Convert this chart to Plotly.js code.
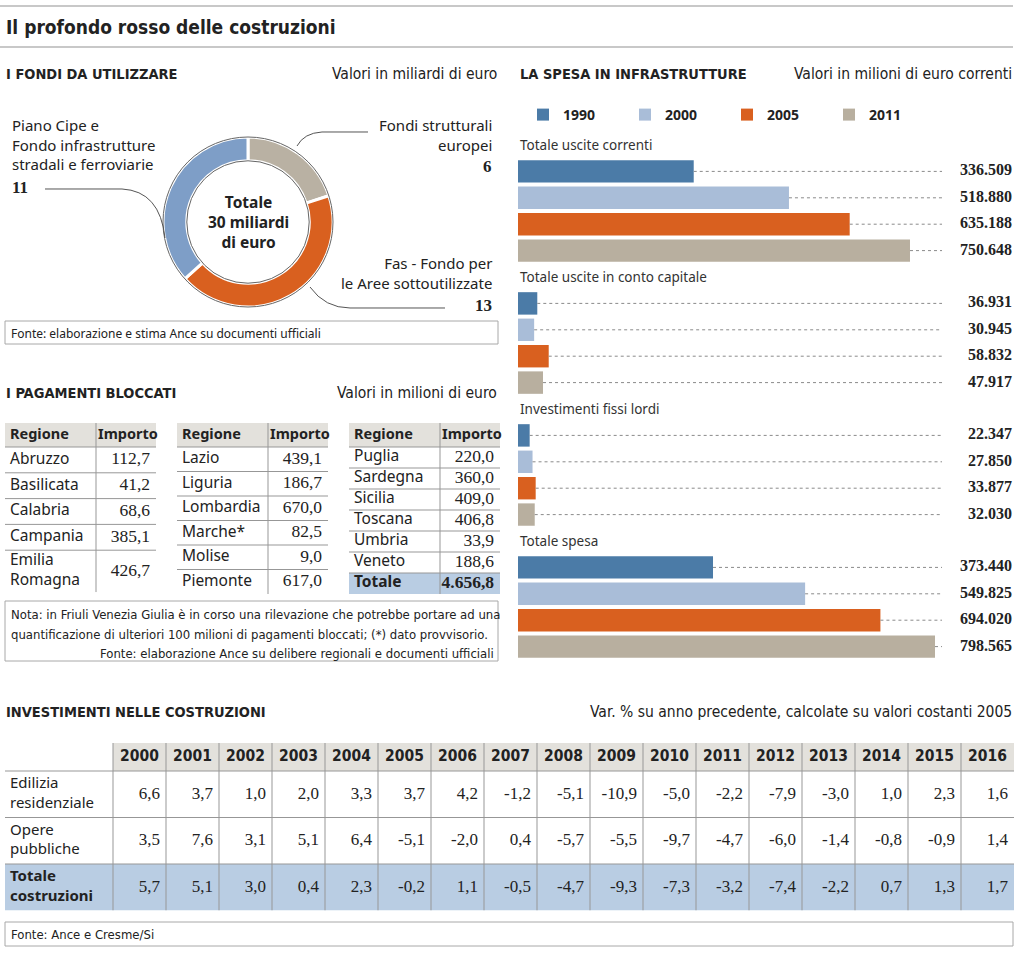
<!DOCTYPE html>
<html><head><meta charset="utf-8">
<script src="https://cdn.plot.ly/plotly-3.0.1.min.js"></script>
<style>html,body{margin:0;padding:0;background:#fff}#chart{width:1024px;height:954px}</style>
</head><body><div id="chart"></div>
<script>
// ---------------- DATA ----------------
const fondiLabels = ['Fondi strutturali<br>europei', 'Fas - Fondo per<br>le Aree sottoutilizzate', 'Piano Cipe e<br>Fondo infrastrutture<br>stradali e ferroviarie'];
const fondiValues = [6, 13, 11];
const fondiTotalText = 'Totale<br>30 miliardi<br>di euro';

const spesaYears = ['1990', '2000', '2005', '2011'];
const spesaGroups = ['Totale uscite correnti', 'Totale uscite in conto capitale', 'Investimenti fissi lordi', 'Totale spesa'];
const spesa1990 = [336509, 36931, 22347, 373440];
const spesa2000 = [518880, 30945, 27850, 549825];
const spesa2005 = [635188, 58832, 33877, 694020];
const spesa2011 = [750648, 47917, 32030, 798565];

const regioni1 = ['Abruzzo', 'Basilicata', 'Calabria', 'Campania', 'Emilia<br>Romagna'];
const importi1 = [112.7, 41.2, 68.6, 385.1, 426.7];
const regioni2 = ['Lazio', 'Liguria', 'Lombardia', 'Marche*', 'Molise', 'Piemonte'];
const importi2 = [439.1, 186.7, 670.0, 82.5, 9.0, 617.0];
const regioni3 = ['Puglia', 'Sardegna', 'Sicilia', 'Toscana', 'Umbria', 'Veneto', 'Totale'];
const importi3 = [220.0, 360.0, 409.0, 406.8, 33.9, 188.6, 4656.8];
const tableHeader = ['Regione', 'Importo'];

const invYears = ['2000','2001','2002','2003','2004','2005','2006','2007','2008','2009','2010','2011','2012','2013','2014','2015','2016'];
const invRows = ['Edilizia residenziale', 'Opere pubbliche', 'Totale costruzioni'];
const invEdilizia = [6.6, 3.7, 1.0, 2.0, 3.3, 3.7, 4.2, -1.2, -5.1, -10.9, -5.0, -2.2, -7.9, -3.0, 1.0, 2.3, 1.6];
const invOpere = [3.5, 7.6, 3.1, 5.1, 6.4, -5.1, -2.0, 0.4, -5.7, -5.5, -9.7, -4.7, -6.0, -1.4, -0.8, -0.9, 1.4];
const invTotale = [5.7, 5.1, 3.0, 0.4, 2.3, -0.2, 1.1, -0.5, -4.7, -9.3, -7.3, -3.2, -7.4, -2.2, 0.7, 1.3, 1.7];

// ---------------- HELPERS ----------------
const W = 1024, H = 954;
const X = p => p / W;
const Y = p => 1 - p / H;
const SANS = "'Noto Sans', 'Open Sans', sans-serif";
const COND = "'Liberation Sans Narrow', 'DejaVu Sans Condensed', Roboto, sans-serif";
const SERIF = "'Liberation Serif', 'DejaVu Serif', serif";
const INK = '#222';
const LINE = '#979797';
const HEAD_FILL = '#e3e1dc';
const TOT_FILL = '#b9cde3';
const fmt1 = v => {
  const s = Math.abs(v).toFixed(1).split('.');
  const i = s[0].replace(/\B(?=(\d{3})+(?!\d))/g, '.');
  return (v < 0 ? '-' : '') + i + ',' + s[1];
};
function ann(text, x, y, o) {
  o = o || {};
  return {text: text, x: X(x), y: Y(y), xref: 'paper', yref: 'paper', showarrow: false,
    xanchor: o.xa || 'left', yanchor: o.ya || 'middle', align: o.align || (o.xa === 'right' ? 'right' : (o.xa === 'center' ? 'center' : 'left')),
    font: {family: o.family || SANS, size: o.size || 14, color: o.color || INK}};
}
function path(cmds) {
  return cmds.map(c => c[0] + ' ' + c.slice(1).map((v, k) => (k % 2 === 0 ? X(v) : Y(v)).toFixed(5)).join(' ')).join(' ');
}

const traces = [];
const annotations = [];
const shapes = [];
const layout = {
  width: W, height: H, margin: {l: 0, r: 0, t: 0, b: 0}, paper_bgcolor: '#ffffff', plot_bgcolor: 'rgba(0,0,0,0)',
  separators: ',.', barmode: 'overlay', font: {family: SANS, color: INK}, showlegend: true
};

// ---------------- DONUT ----------------
const donutColors = ['#b9b1a3', '#d9601f', '#7e9ec7'];
const cx = 248, cy = 222, R = 85, hole = 0.72;
traces.push({
  type: 'pie', values: fondiValues, labels: fondiLabels.map(s => s.replace(/<br>/g, ' ')),
  sort: false, direction: 'clockwise', rotation: 0, hole: hole,
  marker: {colors: donutColors, line: {color: '#ffffff', width: 3}},
  textinfo: 'none', showlegend: false, hoverinfo: 'label+value',
  domain: {x: [X(cx - R), X(cx + R)], y: [Y(cy + R), Y(cy - R)]}
});
shapes.push({type: 'circle', xref: 'paper', yref: 'paper', x0: X(cx - R), x1: X(cx + R), y0: Y(cy + R), y1: Y(cy - R), line: {color: '#666', width: 1}});
const ri = R * hole;
shapes.push({type: 'circle', xref: 'paper', yref: 'paper', x0: X(cx - ri), x1: X(cx + ri), y0: Y(cy + ri), y1: Y(cy - ri), line: {color: '#666', width: 1}});
annotations.push(ann('<b>' + fondiTotalText + '</b>', cx, cy, {xa: 'center', size: 15.5}));
annotations.push(ann(fondiLabels[2], 10, 113, {ya: 'top', size: 15}));
annotations.push(ann('<b>' + fondiValues[2] + '</b>', 10, 187, {family: SERIF, size: 17}));
annotations.push(ann(fondiLabels[0], 494, 113, {ya: 'top', xa: 'right', size: 15}));
annotations.push(ann('<b>' + fondiValues[0] + '</b>', 494, 166, {xa: 'right', family: SERIF, size: 17}));
annotations.push(ann(fondiLabels[1], 494, 251, {ya: 'top', xa: 'right', size: 15}));
annotations.push(ann('<b>' + fondiValues[1] + '</b>', 494, 306, {xa: 'right', family: SERIF, size: 17}));
const leaderStyle = {color: '#555', width: 1};
shapes.push({type: 'path', xref: 'paper', yref: 'paper', line: leaderStyle, path: path([['M', 45, 189], ['L', 122, 189], ['Q', 160, 191, 165, 238]])});
shapes.push({type: 'path', xref: 'paper', yref: 'paper', line: leaderStyle, path: path([['M', 368, 132], ['L', 322, 132], ['Q', 304, 133, 297, 146]])});
shapes.push({type: 'path', xref: 'paper', yref: 'paper', line: leaderStyle, path: path([['M', 310, 287], ['Q', 325, 308, 350, 308], ['L', 445, 308]])});

// ---------------- BARS ----------------
const barColors = ['#4b7ba7', '#a9bdd8', '#d9601f', '#b8af9f'];
const spesaSeries = [spesa1990, spesa2000, spesa2005, spesa2011];
const SLOTS = 5;
const xMax = 946000, leaderEnd = 812000;
layout.xaxis = {domain: [X(518), X(1012)], range: [0, xMax], visible: false, fixedrange: true};
layout.yaxis = {domain: [Y(659.8), Y(131.8)], range: [19.5, -0.5], visible: false, fixedrange: true};
layout.legend = {orientation: 'h', x: X(523), y: Y(99), xanchor: 'left', yanchor: 'top', traceorder: 'normal',
  entrywidth: 57, entrywidthmode: 'pixels', itemwidth: 30, bgcolor: 'rgba(0,0,0,0)',
  font: {family: SANS, size: 14, color: INK, weight: 'bold'}};
spesaSeries.forEach((vals, k) => {
  const ys = vals.map((v, g) => g * SLOTS + k + 1);
  traces.push({type: 'bar', orientation: 'h', name: spesaYears[k], x: vals, y: ys, width: 0.85,
    marker: {color: barColors[k]}, xaxis: 'x', yaxis: 'y', hovertemplate: '%{x:,}<extra>' + spesaYears[k] + '</extra>'});
});
const lx = [], ly = [];
spesaSeries.forEach((vals, k) => vals.forEach((v, g) => {
  const s = g * SLOTS + k + 1;
  lx.push(v, leaderEnd, null); ly.push(s, s, null);
}));
traces.push({type: 'scatter', mode: 'lines', x: lx, y: ly, line: {color: '#8a8a8a', width: 1, dash: 'dot'},
  showlegend: false, hoverinfo: 'skip', xaxis: 'x', yaxis: 'y'});
const vx = [], vy = [], vc = [];
spesaSeries.forEach((vals, k) => vals.forEach((v, g) => { vx.push(xMax); vy.push(g * SLOTS + k + 1); vc.push(v); }));
traces.push({type: 'scatter', mode: 'text', x: vx, y: vy, customdata: vc, texttemplate: '<b>%{customdata:,}</b>',
  textposition: 'middle left', textfont: {family: SERIF, size: 16, color: INK}, cliponaxis: false,
  showlegend: false, hoverinfo: 'skip', xaxis: 'x', yaxis: 'y'});
spesaGroups.forEach((g, i) => {
  annotations.push({text: g, xref: 'paper', yref: 'y', x: X(518), y: i * SLOTS, xanchor: 'left', yanchor: 'middle',
    showarrow: false, font: {family: SANS, size: 13.5, color: '#333'}});
});

// ---------------- TABLE ENGINE (text through hidden axes) ----------------
let axisN = 1;
function addTable(spec) {
  const n = ++axisN;
  const xa = 'x' + n, ya = 'y' + n;
  const totalW = spec.colW.reduce((a, b) => a + b, 0);
  const totalH = spec.headH + spec.rowH.reduce((a, b) => a + b, 0);
  layout['xaxis' + n] = {domain: [X(spec.left), X(spec.left + totalW)], range: [0, totalW], visible: false, fixedrange: true, anchor: ya};
  layout['yaxis' + n] = {domain: [Y(spec.top + totalH), Y(spec.top)], range: [totalH, 0], visible: false, fixedrange: true, anchor: xa};
  const colL = []; let acc = 0; spec.colW.forEach(w => { colL.push(acc); acc += w; });
  const rowTop = []; acc = spec.headH; spec.rowH.forEach(h => { rowTop.push(acc); acc += h; });
  spec.colW.forEach((w, c) => {
    if (spec.headFill[c]) shapes.push({type: 'rect', xref: xa, yref: ya, x0: colL[c], x1: colL[c] + w, y0: 0, y1: spec.headH,
      fillcolor: spec.headFill[c], line: {width: 0}, layer: 'below'});
  });
  spec.rowH.forEach((h, r) => {
    if (spec.rowFill[r]) shapes.push({type: 'rect', xref: xa, yref: ya, x0: 0, x1: totalW, y0: rowTop[r], y1: rowTop[r] + h,
      fillcolor: spec.rowFill[r], line: {width: 0}, layer: 'below'});
  });
  [spec.headH].concat(rowTop.slice(1)).forEach(yv => shapes.push({type: 'line', xref: xa, yref: ya, x0: 0, x1: totalW, y0: yv, y1: yv, line: {color: LINE, width: 1}}));
  colL.slice(1).forEach(xv => shapes.push({type: 'line', xref: xa, yref: ya, x0: xv, x1: xv, y0: 0, y1: totalH, line: {color: LINE, width: 1}}));
  const place = (al, c, pad) => al === 'left' ? [colL[c] + pad, 'middle right'] : al === 'right' ? [colL[c] + spec.colW[c] - pad, 'middle left'] : [colL[c] + spec.colW[c] / 2, 'middle center'];
  spec.header.forEach((h, c) => {
    const p = place(spec.headAlign[c], c, spec.headPad[c]);
    traces.push({type: 'scatter', mode: 'text', x: [p[0]], y: [spec.headH / 2], text: [h], textposition: p[1],
      textfont: spec.headFont, xaxis: xa, yaxis: ya, showlegend: false, hoverinfo: 'skip', cliponaxis: false});
  });
  spec.columns.forEach((col, c) => {
    const p = place(spec.align[c], c, spec.pad[c]);
    traces.push({type: 'scatter', mode: 'text', x: col.map(() => p[0]), y: spec.rowH.map((h, r) => rowTop[r] + h / 2),
      text: col, textposition: p[1], textfont: spec.fonts[c], xaxis: xa, yaxis: ya, showlegend: false, hoverinfo: 'skip', cliponaxis: false});
  });
}

// ---------------- SMALL TABLES ----------------
const nameFont = {family: SANS, size: 15.5, color: INK};
const numFont = {family: SERIF, size: 17.5, color: INK};
const headFontSmall = {family: SANS, size: 14.5, color: INK};
function smallTable(regs, vals, left, rowH, highlightLast) {
  const n = regs.length;
  const isTot = i => highlightLast && i === n - 1;
  addTable({
    left: left, top: 423, colW: [91, 60], headH: 24,
    rowH: regs.map(r => r.indexOf('<br>') >= 0 ? 42 : rowH),
    header: tableHeader.map(h => '<b>' + h + '</b>'), headAlign: ['left', 'left'], headPad: [5, 2], headFont: headFontSmall,
    headFill: [HEAD_FILL, HEAD_FILL],
    rowFill: regs.map((r, i) => isTot(i) ? TOT_FILL : null),
    columns: [regs.map((r, i) => isTot(i) ? '<b>' + r + '</b>' : r), vals.map((v, i) => isTot(i) ? '<b>' + fmt1(v) + '</b>' : fmt1(v))],
    align: ['left', 'right'], pad: [5, 6], fonts: [nameFont, numFont]
  });
}
smallTable(regioni1, importi1, 5, 25.8, false);
smallTable(regioni2, importi2, 177, 24.5, false);
smallTable(regioni3, importi3, 349, 21, true);

// ---------------- BIG TABLE ----------------
const invSeries = [invEdilizia, invOpere, invTotale];
addTable({
  left: 5, top: 743, colW: [108].concat(invYears.map(() => 53)), headH: 28,
  rowH: invRows.map(() => 46.5),
  header: [''].concat(invYears.map(y => '<b>' + y + '</b>')), headAlign: ['left'].concat(invYears.map(() => 'center')),
  headPad: [5].concat(invYears.map(() => 0)), headFont: {family: COND, size: 15.5, color: INK},
  headFill: [null].concat(invYears.map(() => HEAD_FILL)),
  rowFill: invRows.map((r, i) => i === 2 ? TOT_FILL : null),
  columns: [invRows.map((r, i) => r.split(' ').map(p => i === 2 ? '<b>' + p + '</b>' : p).join('<br>'))]
    .concat(invYears.map((y, j) => invSeries.map(s => fmt1(s[j])))),
  align: ['left'].concat(invYears.map(() => 'right')), pad: [5].concat(invYears.map(() => 6)),
  fonts: [{family: SANS, size: 15, color: INK}].concat(invYears.map(() => ({family: SERIF, size: 17, color: INK})))
});

// ---------------- TEXTS & FRAMES ----------------
shapes.push({type: 'line', xref: 'paper', yref: 'paper', x0: 0, x1: X(1013), y0: Y(6), y1: Y(6), line: {color: '#c8c8c8', width: 2}});
shapes.push({type: 'line', xref: 'paper', yref: 'paper', x0: 0, x1: X(1013), y0: Y(47), y1: Y(47), line: {color: '#c8c8c8', width: 2}});
shapes.push({type: 'rect', xref: 'paper', yref: 'paper', x0: X(5), x1: X(498), y0: Y(344), y1: Y(321), line: {color: '#a8a8a8', width: 1}});
shapes.push({type: 'rect', xref: 'paper', yref: 'paper', x0: X(5), x1: X(498), y0: Y(661), y1: Y(601), line: {color: '#a8a8a8', width: 1}});
shapes.push({type: 'rect', xref: 'paper', yref: 'paper', x0: X(5), x1: X(1013), y0: Y(946), y1: Y(922), line: {color: '#a8a8a8', width: 1}});

annotations.push(ann('<b>Il profondo rosso delle costruzioni</b>', 4, 27, {family: COND, size: 19}));
annotations.push(ann('<b>I FONDI DA UTILIZZARE</b>', 4, 74, {family: COND, size: 14.5}));
annotations.push(ann('Valori in miliardi di euro', 499, 74, {xa: 'right', family: COND, size: 15.5}));
annotations.push(ann('<b>LA SPESA IN INFRASTRUTTURE</b>', 518, 74, {family: COND, size: 14.5}));
annotations.push(ann('Valori in milioni di euro correnti', 1014, 74, {xa: 'right', family: COND, size: 15.5}));
annotations.push(ann('<b>I PAGAMENTI BLOCCATI</b>', 4, 393, {family: COND, size: 14.5}));
annotations.push(ann('Valori in milioni di euro', 499, 393, {xa: 'right', family: COND, size: 15.5}));
annotations.push(ann('<b>INVESTIMENTI NELLE COSTRUZIONI</b>', 4, 712, {family: COND, size: 14.5}));
annotations.push(ann('Var. % su anno precedente, calcolate su valori costanti 2005', 1014, 712, {xa: 'right', family: COND, size: 15.5}));
annotations.push(ann('Fonte: elaborazione e stima Ance su documenti ufficiali', 9, 333, {size: 12}));
annotations.push(ann('Nota: in Friuli Venezia Giulia è in corso una rilevazione che potrebbe portare ad una', 9, 614, {family: COND, size: 13}));
annotations.push(ann('quantificazione di ulteriori 100 milioni di pagamenti bloccati; (*) dato provvisorio.', 9, 634, {family: COND, size: 13}));
annotations.push(ann('Fonte: elaborazione Ance su delibere regionali e documenti ufficiali', 496, 653, {xa: 'right', family: COND, size: 13}));
annotations.push(ann('Fonte: Ance e Cresme/Si', 9, 934, {family: COND, size: 13}));

layout.annotations = annotations;
layout.shapes = shapes;
Plotly.newPlot('chart', traces, layout, {displayModeBar: false});
</script>
</body></html>
